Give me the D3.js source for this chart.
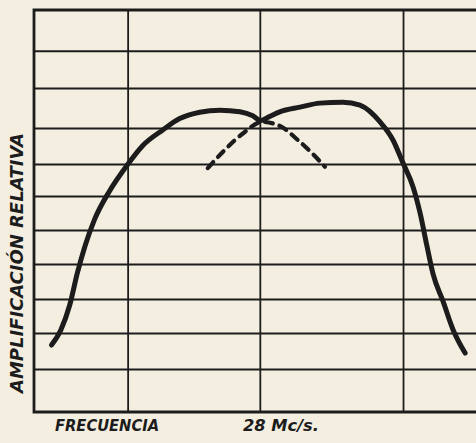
<!DOCTYPE html>
<html>
<head>
<meta charset="utf-8">
<script src="https://cdn.jsdelivr.net/npm/d3@7"></script>
<style>
  html, body { margin: 0; padding: 0; background: #f4eee0; }
  svg { display: block; }
  .lbl { font-family: "DejaVu Sans Condensed", "DejaVu Sans", sans-serif; font-style: oblique; font-weight: bold; fill: #1c1c1c; }
</style>
</head>
<body>
<figure id="chart" style="margin:0"></figure>
<script>
// frequency offset (grid units around 28 Mc/s) and relative amplification
const xTicks = [-0.96, 0, 1.04]
const yTicks = [1.28, 2.36, 3.37, 4.42, 5.43, 6.45, 7.40, 8.48, 9.67, 10.78]

const solidX = [-1.513, -1.445, -1.38, -1.325, -1.27, -1.2, -1.091, -0.967, -0.851, -0.705, -0.582, -0.436, -0.291, -0.145, -0.051, 0.007, 0.065, 0.145, 0.291, 0.436, 0.604, 0.727, 0.873, 0.967, 1.04, 1.113, 1.164, 1.215, 1.258, 1.331, 1.404, 1.491]
const solidY = [2.0, 2.45, 3.2, 4.15, 4.95, 5.75, 6.6, 7.35, 7.95, 8.42, 8.76, 8.95, 9.01, 8.96, 8.84, 8.70, 8.81, 8.96, 9.10, 9.22, 9.25, 9.16, 8.66, 8.12, 7.43, 6.72, 5.94, 4.93, 4.12, 3.30, 2.45, 1.76]

const dashX = [-0.378, -0.255, -0.109, 0.015, 0.145, 0.276, 0.385, 0.473]
const dashY = [7.28, 7.82, 8.36, 8.66, 8.54, 8.12, 7.70, 7.32]

const W = 476, H = 443
const margin = { top: 10, right: 0, bottom: 31, left: 34 }
const ink = "#1c1c1c"

const svg = d3.select("figure#chart")
  .append("svg")
  .attr("width", W)
  .attr("height", H)

let x = d3.scaleLinear()
  .domain([-1.64, 1.57])
  .range([margin.left, W - margin.right])

let y = d3.scaleLinear()
  .domain([0, 12])
  .range([H - margin.bottom, margin.top])

// vertical grid
svg.append("g")
  .attr("transform", `translate(0,${H - margin.bottom})`)
  .call(d3.axisBottom(x).tickValues(xTicks).tickSize(-(H - margin.bottom - margin.top)).tickFormat(""))
  .call(g => g.select(".domain").remove())
  .selectAll("line").attr("stroke", ink).attr("stroke-width", 1.8)

// horizontal grid
svg.append("g")
  .attr("transform", `translate(${margin.left},0)`)
  .call(d3.axisLeft(y).tickValues(yTicks).tickSize(-(W - margin.left)).tickFormat(""))
  .call(g => g.select(".domain").remove())
  .selectAll("line").attr("stroke", ink).attr("stroke-width", 2)

// frame (no right side)
svg.append("path")
  .attr("d", `M${W},${y(12)}H${x(-1.64)}V${y(0)}H${W}`)
  .attr("fill", "none")
  .attr("stroke", ink)
  .attr("stroke-width", 2.8)

const line = d3.line()
  .x(d => x(d[0]))
  .y(d => y(d[1]))
  .curve(d3.curveMonotoneX)

svg.append("path")
  .datum(d3.zip(solidX, solidY))
  .attr("d", line)
  .attr("fill", "none")
  .attr("stroke", ink)
  .attr("stroke-width", 5)
  .attr("stroke-linecap", "round")
  .attr("stroke-linejoin", "round")

svg.append("path")
  .datum(d3.zip(dashX, dashY))
  .attr("d", line)
  .attr("fill", "none")
  .attr("stroke", ink)
  .attr("stroke-width", 4.2)
  .attr("stroke-dasharray", "8 7")
  .attr("stroke-linecap", "round")

// labels
svg.append("text")
  .attr("class", "lbl")
  .attr("transform", "translate(23,393) rotate(-90)")
  .attr("textLength", 260)
  .attr("lengthAdjust", "spacingAndGlyphs")
  .style("font-size", "17px")
  .text("AMPLIFICACIÓN   RELATIVA")

svg.append("text")
  .attr("class", "lbl")
  .attr("x", 55).attr("y", 431)
  .attr("textLength", 104)
  .attr("lengthAdjust", "spacingAndGlyphs")
  .style("font-size", "16px")
  .text("FRECUENCIA")

svg.append("text")
  .attr("class", "lbl")
  .attr("x", 243).attr("y", 431)
  .attr("textLength", 76)
  .attr("lengthAdjust", "spacingAndGlyphs")
  .style("font-size", "16px")
  .text("28 Mc/s.")
</script>
</body>
</html>
